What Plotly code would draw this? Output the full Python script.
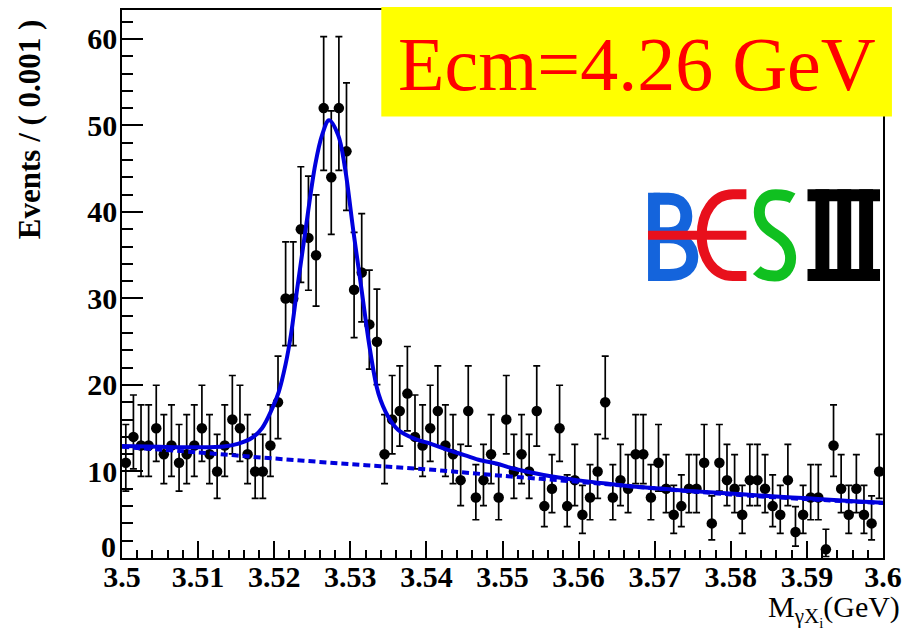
import numpy as np
import plotly.graph_objects as go

# ---------------- data ----------------
# bin centres of M(gamma Xi) in GeV, bin width 0.001 GeV
bin_width = 0.001
bin_lo = 3.500
counts = [11, 14, 13, 13, 15, 12, 13, 11, 12, 13,
          15, 12, 10, 13, 16, 15, 12, 10, 10, 13,
          18, 30, 30, 38, 37, 35, 52, 44, 52, 47,
          31, 33, 27, 25, 12, 16, 17, 19, 14, 13,
          15, 17, 13, 12, 9, 17, 7, 9, 12, 7,
          16, 10, 12, 10, 17, 6, 8, 15, 6, 9,
          5, 7, 10, 18, 7, 9, 8, 12, 12, 7,
          11, 8, 5, 6, 8, 8, 11, 4, 11, 9,
          8, 5, 9, 9, 8, 6, 5, 9, 3, 5,
          7, 7, 1, 13, 8, 5, 8, 5, 4, 10]

# total fit curve (signal + background)
fit_x = [3.5000, 3.5049, 3.5100, 3.5134, 3.5152, 3.5171, 3.5184, 3.5197,
         3.5206, 3.5215, 3.5222, 3.5230, 3.5241, 3.5254, 3.5263, 3.5272,
         3.5284, 3.5293, 3.5304, 3.5315, 3.5326, 3.5337, 3.5350, 3.5363,
         3.5384, 3.5406, 3.5428, 3.5450, 3.5471, 3.5493, 3.5511, 3.5554,
         3.5598, 3.5641, 3.5685, 3.5728, 3.5772, 3.5815, 3.5859, 3.5902,
         3.5946, 3.6000]
fit_y = [12.95, 12.85, 12.8, 12.9, 13.2, 13.9, 15.0, 17.2,
         19.2, 22.4, 25.8, 31.0, 37.8, 45.5, 48.9, 50.6,
         48.9, 45.1, 37.8, 30.9, 24.0, 19.0, 16.3, 14.8,
         13.8, 13.2, 12.5, 11.9, 11.3, 10.9, 10.4, 9.6,
         9.0, 8.56, 8.17, 7.87, 7.6, 7.37, 7.1, 6.9,
         6.64, 6.4]

# background component
bkg_x = [3.50, 3.51, 3.52, 3.53, 3.54, 3.55, 3.56, 3.57, 3.58, 3.59, 3.60]
bkg_y = [12.85, 12.2, 11.5, 10.85, 10.25, 9.5, 8.8, 8.05, 7.35, 6.8, 6.35]

x_ticks = [3.50, 3.51, 3.52, 3.53, 3.54, 3.55, 3.56, 3.57, 3.58, 3.59, 3.60]
x_ticklabels = ["3.5", "3.51", "3.52", "3.53", "3.54", "3.55", "3.56",
                "3.57", "3.58", "3.59", "3.6"]
y_ticks = [0, 10, 20, 30, 40, 50, 60]
# the zero label is drawn separately, lifted clear of the x labels
y_ticklabels = ["", "10", "20", "30", "40", "50", "60"]

# ---------------- derived quantities ----------------
n = np.array(counts, dtype=float)
centres = bin_lo + bin_width * (np.arange(len(counts)) + 0.5)
# approximate Poisson (68%) intervals
err_hi = np.sqrt(n + 0.75) + 1.0
err_lo = n - n * (1.0 - 1.0 / (9.0 * n) - 1.0 / (3.0 * np.sqrt(n))) ** 3

# ---------------- geometry helpers (pixels -> paper) ----------------
W, H = 910, 634
L, T, PW, PH = 122, 8, 766, 550


def fx(px):
    return (px - L) / PW


def fy(py):
    return (T + PH - py) / PH


SERIF = "Liberation Serif, Times New Roman, serif"
BLUE = "#0000dd"

fig = go.Figure()

fig.add_trace(go.Scatter(
    x=centres, y=n, mode="markers",
    marker=dict(color="black", size=10.5),
    error_y=dict(type="data", symmetric=False, array=err_hi, arrayminus=err_lo,
                 color="black", thickness=1.7, width=3.5),
    showlegend=False, hoverinfo="skip"))

fig.add_trace(go.Scatter(
    x=bkg_x, y=bkg_y, mode="lines",
    line=dict(color=BLUE, width=4, dash="7px,4px", shape="spline"),
    showlegend=False, hoverinfo="skip"))

fig.add_trace(go.Scatter(
    x=fit_x, y=fit_y, mode="lines",
    line=dict(color=BLUE, width=4, shape="spline", smoothing=1.0),
    showlegend=False, hoverinfo="skip"))

TICKFONT = dict(family=SERIF, size=30, color="black", weight="bold")

fig.update_xaxes(
    range=[3.5, 3.6], tickmode="array", tickvals=x_ticks, ticktext=x_ticklabels,
    ticks="inside", ticklen=17, tickwidth=1.5, tickcolor="black",
    minor=dict(dtick=0.002, tick0=3.5, ticks="inside", ticklen=8,
               tickwidth=1.5, tickcolor="black"),
    showgrid=False, zeroline=False, showline=True, linecolor="black",
    linewidth=1.5, mirror=True, ticklabelstandoff=-9, tickfont=TICKFONT)

fig.update_yaxes(
    range=[0, 63.34], tickmode="array", tickvals=y_ticks, ticktext=y_ticklabels,
    ticks="inside", ticklen=21, tickwidth=1.5, tickcolor="black",
    minor=dict(dtick=2, tick0=0, ticks="inside", ticklen=11,
               tickwidth=1.5, tickcolor="black"),
    showgrid=False, zeroline=False, showline=True, linecolor="black",
    linewidth=1.5, mirror=True, ticklabelstandoff=-3, tickfont=TICKFONT)

shapes = []
# energy label box
shapes.append(dict(type="rect", xref="paper", yref="paper",
                   x0=fx(383), x1=fx(897), y0=fy(115), y1=fy(5),
                   fillcolor="#ffff00", line=dict(width=0), layer="above"))


def path_px(cmds):
    """Build an SVG path string in paper coordinates from pixel points."""
    out = []
    for c in cmds:
        if isinstance(c, str):
            out.append(c)
        else:
            out.append(f"{fx(c[0]):.5f},{fy(c[1]):.5f}")
    return " ".join(out)


B_COL, E_COL, S_COL = "#1464dc", "#e8101c", "#10c020"
# BESIII logo: B
shapes.append(dict(type="rect", xref="paper", yref="paper",
                   x0=fx(651.5), x1=fx(663.5), y0=fy(280), y1=fy(191.5),
                   fillcolor=B_COL, line=dict(width=0), layer="above"))
shapes.append(dict(type="path", xref="paper", yref="paper", layer="above",
                   path=path_px(["M", (657, 197.5), "L", (672, 197.5), "C", (684, 197.5),
                                 (690, 205), (690, 215), "C", (690, 225), (684, 232),
                                 (672, 232), "L", (657, 232)]),
                   line=dict(color=B_COL, width=12), fillcolor="rgba(0,0,0,0)"))
shapes.append(dict(type="path", xref="paper", yref="paper", layer="above",
                   path=path_px(["M", (657, 236), "L", (673, 236), "C", (688, 236),
                                 (696, 245), (696, 256), "C", (696, 267), (688, 274),
                                 (673, 274), "L", (657, 274)]),
                   line=dict(color=B_COL, width=12), fillcolor="rgba(0,0,0,0)"))
# E: open arc plus long bar
shapes.append(dict(type="path", xref="paper", yref="paper", layer="above",
                   path=path_px(["M", (750.5, 193), "L", (737, 193), "C", (717, 193),
                                 (705.5, 212), (705.5, 234), "C", (705.5, 256), (717, 275),
                                 (737, 275), "L", (750.5, 275)]),
                   line=dict(color=E_COL, width=10), fillcolor="rgba(0,0,0,0)"))
shapes.append(dict(type="rect", xref="paper", yref="paper",
                   x0=fx(651.5), x1=fx(750.5), y0=fy(238.5), y1=fy(229.5),
                   fillcolor=E_COL, line=dict(width=0), layer="above"))
# S
shapes.append(dict(type="path", xref="paper", yref="paper", layer="above",
                   path=path_px(["M", (797, 197), "C", (792, 194), (786, 193.5), (780, 193.5),
                                 "C", (769, 193.5), (763.5, 201), (763.5, 211),
                                 "C", (763.5, 222), (771, 228), (780, 233.5),
                                 "C", (789, 239), (795, 246), (795, 257),
                                 "C", (795, 268), (788, 275), (779, 275),
                                 "C", (771, 275), (765, 273), (761, 269)]),
                   line=dict(color=S_COL, width=11), fillcolor="rgba(0,0,0,0)"))
# III
for (a, b) in [(812, 885)]:
    shapes.append(dict(type="rect", xref="paper", yref="paper",
                       x0=fx(a), x1=fx(b), y0=fy(200), y1=fy(188),
                       fillcolor="black", line=dict(width=0), layer="above"))
    shapes.append(dict(type="rect", xref="paper", yref="paper",
                       x0=fx(a), x1=fx(b), y0=fy(280), y1=fy(268),
                       fillcolor="black", line=dict(width=0), layer="above"))
for (a, b) in [(820, 834), (842, 856), (864, 878)]:
    shapes.append(dict(type="rect", xref="paper", yref="paper",
                       x0=fx(a), x1=fx(b), y0=fy(280), y1=fy(188),
                       fillcolor="black", line=dict(width=0), layer="above"))

annotations = [
    dict(text="Ecm=4.26 GeV", xref="paper", yref="paper", x=fx(640), y=fy(62),
         xanchor="center", yanchor="middle", showarrow=False,
         font=dict(family=SERIF, size=76, color="#ff0000")),
    dict(text="Events / ( 0.001 )", xref="paper", yref="paper", x=fx(29), y=fy(128),
         xanchor="center", yanchor="middle", showarrow=False, textangle=-90,
         font=dict(family=SERIF, size=31, color="black", weight="bold")),
    dict(text="0", xref="paper", yref="paper", x=fx(118), y=fy(546),
         xanchor="right", yanchor="middle", showarrow=False, font=TICKFONT),
    dict(text="M<sub>γX<sub>i</sub></sub>(GeV)", xref="paper", yref="paper",
         x=fx(907), y=fy(611), xanchor="right", yanchor="middle", showarrow=False,
         font=dict(family=SERIF, size=30, color="black")),
]

fig.update_layout(
    width=W, height=H, margin=dict(l=L, r=W - L - PW, t=T, b=H - T - PH),
    paper_bgcolor="white", plot_bgcolor="white",
    shapes=shapes, annotations=annotations)

fig.write_html("out.html")
